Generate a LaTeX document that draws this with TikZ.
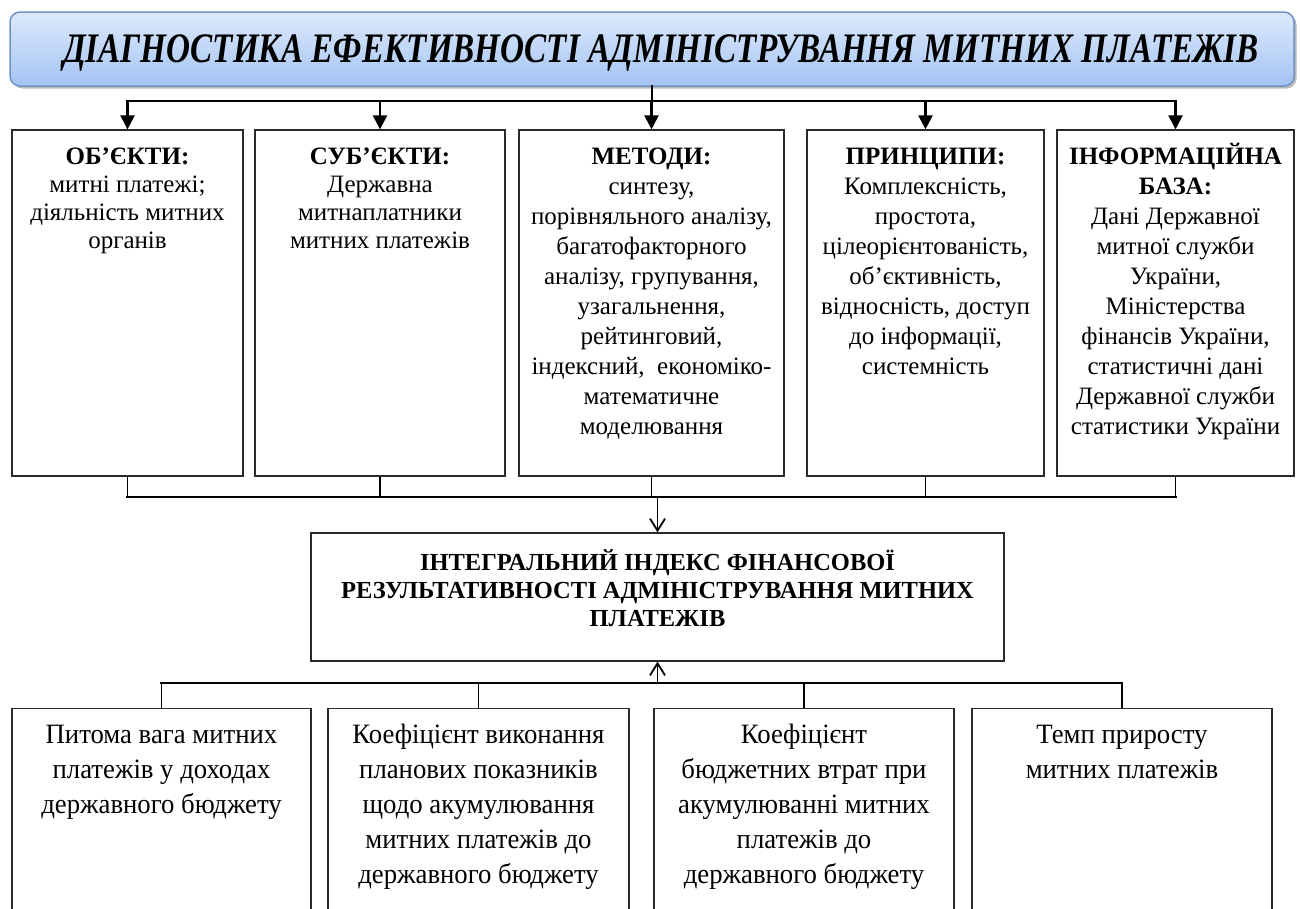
\documentclass[tikz,border=0pt]{standalone}
\usepackage{fontspec}
\setmainfont{Liberation Serif}
\newfontfamily\bannerfont{Liberation Serif}[FakeStretch=0.79]
\newfontfamily\narrowfont{Liberation Serif}[FakeStretch=0.955]
\usetikzlibrary{arrows.meta,shadows}
\definecolor{tbtop}{HTML}{DDEAFB}
\definecolor{tbbot}{HTML}{A3C3F3}
\definecolor{tbline}{HTML}{6E93C6}
\definecolor{boxline}{HTML}{2A2A2A}
\begin{document}
\begin{tikzpicture}[x=1pt,y=-1pt,
  frame/.style={draw=boxline, line width=1.3pt, inner sep=0pt},
  titlebox/.style={rounded corners=10pt, draw=tbline, line width=1.5pt,
    top color=tbtop, bottom color=tbbot, inner sep=0pt,
    drop shadow={shadow xshift=2.5pt, shadow yshift=-2.5pt, fill=black!50, opacity=0.55}},
  txt/.style={inner sep=0pt, align=center, anchor=north},
  topfontA/.style={font=\fontsize{25}{28}\selectfont},
  topfontB/.style={font=\fontsize{25}{30}\selectfont},
  midfont/.style={font=\fontsize{24.5}{28}\selectfont\bfseries},
  lowfont/.style={font=\narrowfont\fontsize{28}{35}\selectfont},
  bus/.style={line width=2.8pt, line cap=rect},
  stub/.style={line width=1.8pt},
  darr/.style={line width=2.4pt, -{Triangle[length=14pt,width=14pt]}},
  oarr/.style={line width=1.8pt, -{Straight Barb[length=12pt,width=15pt]}},
]
\clip (0,0) rectangle (1300,908);

% title banner
\node[titlebox, minimum width=1284pt, minimum height=74pt] (title) at (652,49) {};
\node[anchor=base, inner sep=0pt] (titletext) at (661,62)
  {\bannerfont\fontsize{42}{48}\selectfont\bfseries\itshape ДІАГНОСТИКА ЕФЕКТИВНОСТІ АДМІНІСТРУВАННЯ МИТНИХ ПЛАТЕЖІВ};

% upper row of boxes
\node[frame, minimum width=231pt, minimum height=346pt] (obj) at (127.5,303) {};
\node[frame, minimum width=250pt, minimum height=346pt] (subj) at (380,303) {};
\node[frame, minimum width=265pt, minimum height=346pt] (meth) at (651.5,303) {};
\node[frame, minimum width=237pt, minimum height=346pt] (princ) at (925.5,303) {};
\node[frame, minimum width=237pt, minimum height=346pt] (info) at (1175.5,303) {};

\node[txt, topfontA] (objt) at ([yshift=-15pt]obj.north)
  {\strut\textbf{ОБ’ЄКТИ:}\\ митні платежі;\\ діяльність митних\\ органів};
\node[txt, topfontA] (subjt) at ([yshift=-15pt]subj.north)
  {\strut\textbf{СУБ’ЄКТИ:}\\ Державна\\ митнаплатники\\ митних платежів};
\node[txt, topfontB] (metht) at ([yshift=-14pt]meth.north)
  {\strut\textbf{МЕТОДИ:}\\ синтезу,\\ порівняльного аналізу,\\ багатофакторного\\ аналізу, групування,\\ узагальнення,\\ рейтинговий,\\ індексний,~~економіко-\\ математичне\\ моделювання};
\node[txt, topfontB] (princt) at ([yshift=-14pt]princ.north)
  {\strut\textbf{ПРИНЦИПИ:}\\ Комплексність,\\ простота,\\ цілеорієнтованість,\\ об’єктивність,\\ відносність, доступ\\ до інформації,\\ системність};
\node[txt, topfontB] (infot) at ([yshift=-14pt]info.north)
  {\strut\textbf{ІНФОРМАЦІЙНА}\\ \textbf{БАЗА:}\\ Дані Державної\\ митної служби\\ України,\\ Міністерства\\ фінансів України,\\ статистичні дані\\ Державної служби\\ статистики України};

% integral index box
\node[frame, minimum width=693pt, minimum height=128pt] (integ) at (657.5,597) {};
\node[txt, midfont] (integt) at ([yshift=-17pt]integ.north)
  {\strut ІНТЕГРАЛЬНИЙ ІНДЕКС ФІНАНСОВОЇ\\ РЕЗУЛЬТАТИВНОСТІ АДМІНІСТРУВАННЯ МИТНИХ\\ ПЛАТЕЖІВ};

% lower row of boxes (running past the lower edge)
\node[frame, minimum width=299pt, minimum height=260pt, anchor=north] (share) at (161.5,708) {};
\node[frame, minimum width=301pt, minimum height=260pt, anchor=north] (plan) at (478.5,708) {};
\node[frame, minimum width=300pt, minimum height=260pt, anchor=north] (loss) at (804,708) {};
\node[frame, minimum width=300pt, minimum height=260pt, anchor=north] (growth) at (1122,708) {};

\node[txt, lowfont] (sharet) at ([yshift=-11pt]share.north)
  {\strut Питома вага митних\\ платежів у доходах\\ державного бюджету};
\node[txt, lowfont] (plant) at ([yshift=-11pt]plan.north)
  {\strut Коефіцієнт виконання\\ планових показників\\ щодо акумулювання\\ митних платежів до\\ державного бюджету};
\node[txt, lowfont] (losst) at ([yshift=-11pt]loss.north)
  {\strut Коефіцієнт\\ бюджетних втрат при\\ акумулюванні митних\\ платежів до\\ державного бюджету};
\node[txt, lowfont] (growtht) at ([yshift=-11pt]growth.north)
  {\strut Темп приросту\\ митних платежів};

% bus lines
\coordinate (topbus) at (652,101);
\coordinate (midbus) at (652,497);
\coordinate (lowbus) at (652,683);

% title to the upper row
\draw[bus] (title.south) -- (topbus);
\draw[bus] (obj.north |- topbus) -- (info.north |- topbus);
\foreach \b in {obj,subj,meth,princ,info}
  \draw[darr] (\b.north |- topbus) -- (\b.north);

% upper row to the index
\foreach \b in {obj,subj,meth,princ,info}
  \draw[stub] (\b.south) -- (\b.south |- midbus);
\draw[bus] (obj.south |- midbus) -- (info.south |- midbus);
\draw[oarr] (integ.north |- midbus) -- (integ.north);

% lower row to the index
\draw[bus] (share.north |- lowbus) -- (growth.north |- lowbus);
\foreach \b in {share,plan,loss,growth}
  \draw[stub] (\b.north |- lowbus) -- (\b.north);
\draw[oarr] (integ.south |- lowbus) -- (integ.south);
\end{tikzpicture}
\end{document}
